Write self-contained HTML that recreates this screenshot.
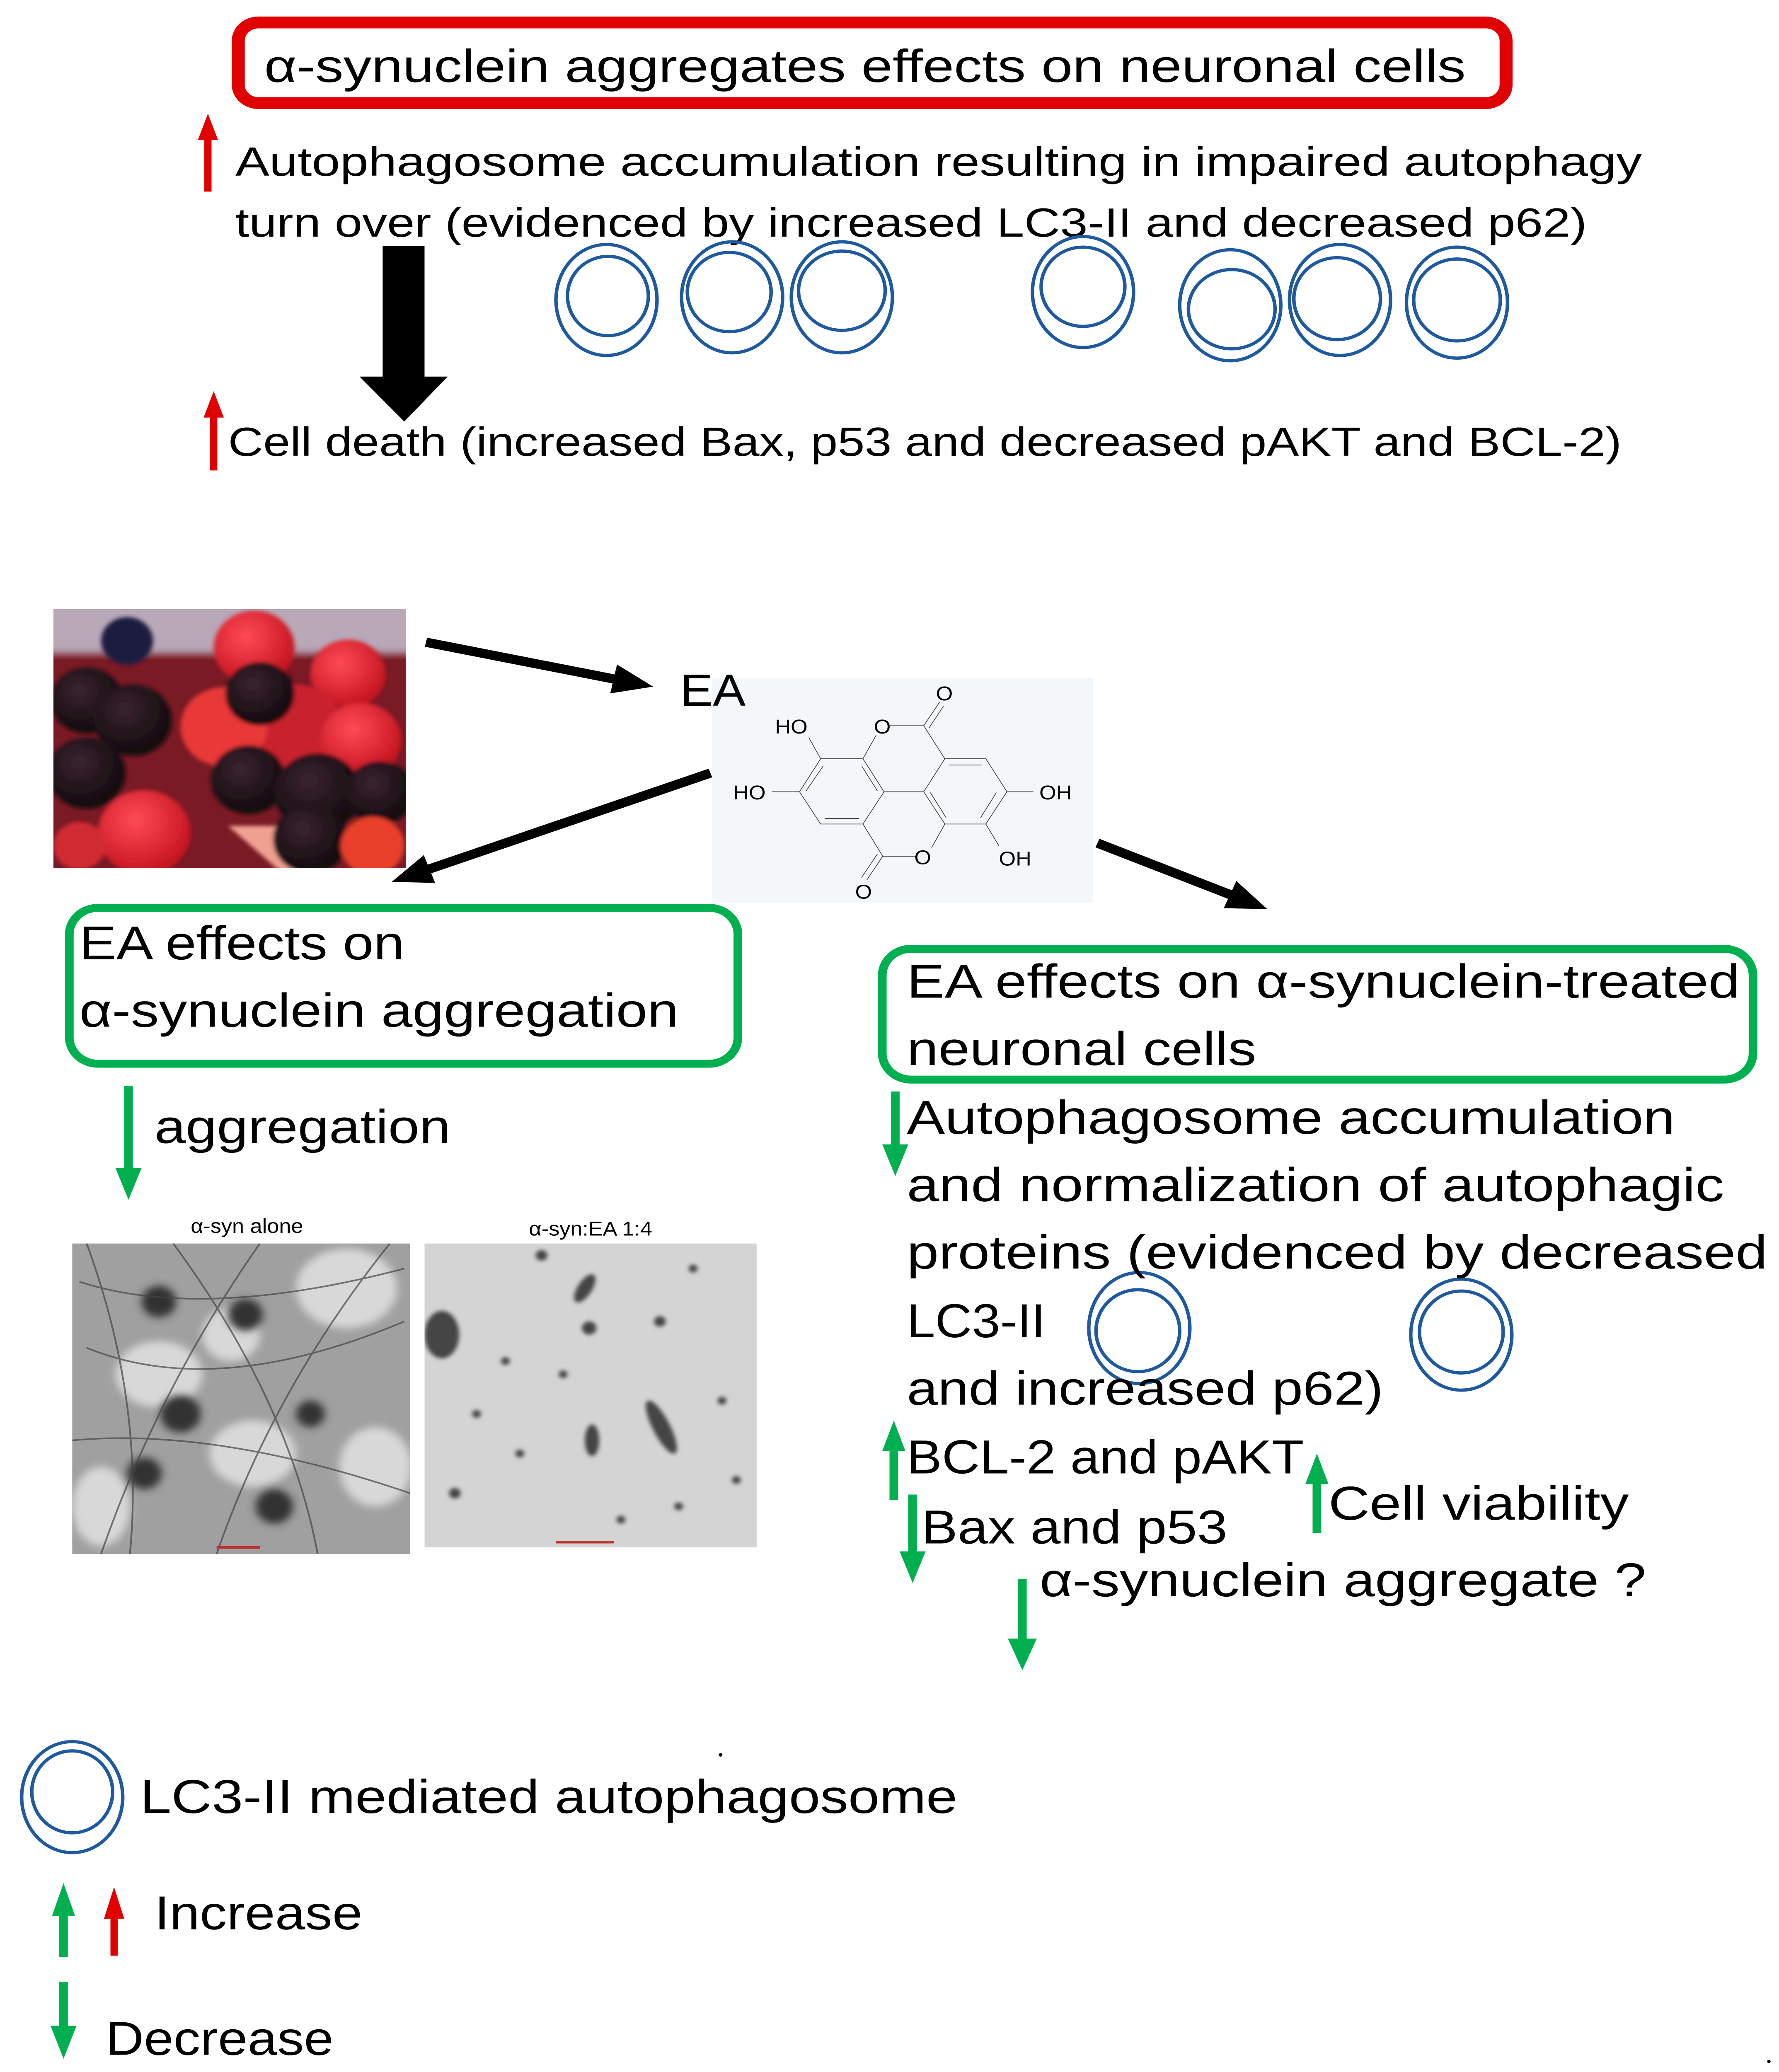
<!DOCTYPE html>
<html><head><meta charset="utf-8"><style>
html,body{margin:0;padding:0;background:#fff;width:100%;height:100%;overflow:hidden;}
svg{display:block;position:fixed;left:0;top:0;width:100vw;height:100vh;}
text{font-family:"Liberation Sans",sans-serif;fill:#000;}
</style></head><body>
<svg viewBox="0 0 1232 1568" preserveAspectRatio="none" xmlns="http://www.w3.org/2000/svg">
<defs>
<marker id="ah" markerWidth="4" markerHeight="4" refX="2.2" refY="2" orient="auto" markerUnits="strokeWidth">
<path d="M0,0.4 L4,2 L0,3.6 Z" fill="#000"/></marker>
<radialGradient id="rb" cx="0.4" cy="0.35" r="0.7"><stop offset="0" stop-color="#ff4a55"/><stop offset="1" stop-color="#c0101c"/></radialGradient>
<radialGradient id="bb" cx="0.4" cy="0.35" r="0.7"><stop offset="0" stop-color="#3a2430"/><stop offset="1" stop-color="#0e0709"/></radialGradient>
<filter id="bl"><feGaussianBlur stdDeviation="1.5"/></filter>
<filter id="bl2"><feGaussianBlur stdDeviation="3"/></filter>
</defs>

<rect x="165" y="17" width="878" height="61" rx="14" fill="none" stroke="#e00000" stroke-width="9"/>
<text x="183" y="62" font-size="35" textLength="832" lengthAdjust="spacingAndGlyphs">α-synuclein aggregates effects on neuronal cells</text>

<polygon points="144,86 151,106 146.5,106 146.5,145 141.5,145 141.5,106 137,106" fill="#e00000"/>
<polygon points="148,296 155,316 150.5,316 150.5,356 145.5,356 145.5,316 141,316" fill="#e00000"/>

<text x="163" y="133" font-size="31" textLength="974" lengthAdjust="spacingAndGlyphs">Autophagosome accumulation resulting in impaired autophagy</text>
<text x="163" y="179" font-size="31" textLength="936" lengthAdjust="spacingAndGlyphs">turn over (evidenced by increased LC3-II and decreased p62)</text>
<text x="158" y="345" font-size="31" textLength="965" lengthAdjust="spacingAndGlyphs">Cell death (increased Bax, p53 and decreased pAKT and BCL-2)</text>

<polygon points="265,186 294,186 294,285 310,285 280,319 249,285 265,285" fill="#000"/>

<g fill="none" stroke="#1f5aa0" stroke-width="2.4">
<ellipse cx="420" cy="227" rx="35" ry="42"/><ellipse cx="421" cy="224" rx="28" ry="30"/>
<ellipse cx="507" cy="225" rx="35" ry="42"/><ellipse cx="505" cy="221" rx="29" ry="30"/>
<ellipse cx="583" cy="225" rx="35" ry="42"/><ellipse cx="583" cy="220" rx="30" ry="30"/>
<ellipse cx="750" cy="221" rx="35" ry="42"/><ellipse cx="750" cy="217" rx="29" ry="30"/>
<ellipse cx="852" cy="231" rx="35" ry="42"/><ellipse cx="853" cy="234" rx="30" ry="30"/>
<ellipse cx="928" cy="227" rx="35" ry="42"/><ellipse cx="926" cy="226" rx="30" ry="31"/>
<ellipse cx="1009" cy="229" rx="35" ry="42"/><ellipse cx="1009" cy="227" rx="30" ry="31"/>
<ellipse cx="789" cy="1005" rx="35" ry="42"/><ellipse cx="788" cy="1007" rx="29" ry="31"/>
<ellipse cx="1012" cy="1010" rx="35" ry="42"/><ellipse cx="1012" cy="1008" rx="29" ry="31"/>
<ellipse cx="50" cy="1360" rx="35" ry="42"/><ellipse cx="50" cy="1356" rx="28" ry="31"/>
</g>

<g>
<clipPath id="bc"><rect x="37" y="461" width="244" height="196"/></clipPath>
<g clip-path="url(#bc)">
<rect x="37" y="461" width="244" height="196" fill="#7a1a24"/>
<g filter="url(#bl2)"><rect x="30" y="455" width="260" height="40" fill="#b8a8b8"/></g>
<g filter="url(#bl)">
<circle cx="176" cy="490" r="28" fill="url(#rb)"/>
<circle cx="88" cy="485" r="18" fill="#1a1a40"/>
<circle cx="241" cy="510" r="26" fill="url(#rb)"/>
<circle cx="205" cy="550" r="32" fill="#c8202e"/>
<circle cx="250" cy="560" r="28" fill="url(#rb)"/>
<circle cx="155" cy="550" r="30" fill="#e83838"/>
<circle cx="60" cy="530" r="25" fill="url(#bb)"/>
<circle cx="92" cy="545" r="27" fill="url(#bb)"/>
<circle cx="180" cy="525" r="24" fill="url(#bb)"/>
<circle cx="60" cy="585" r="27" fill="url(#bb)"/>
<circle cx="172" cy="590" r="26" fill="url(#bb)"/>
<circle cx="220" cy="600" r="30" fill="url(#bb)"/>
<circle cx="263" cy="600" r="24" fill="url(#bb)"/>
<circle cx="100" cy="630" r="32" fill="url(#rb)"/>
<path d="M158,625 L232,625 L200,665 Z" fill="#f0a090"/>
<circle cx="215" cy="635" r="26" fill="url(#bb)"/>
<circle cx="258" cy="640" r="22" fill="#e8402a"/>
<circle cx="55" cy="640" r="18" fill="#d02a30"/>
</g></g></g>

<g stroke="#000" stroke-width="7" marker-end="url(#ah)">
<line x1="295" y1="486" x2="440" y2="517"/>
<line x1="492" y1="585" x2="283" y2="663"/>
<line x1="760" y1="638" x2="866" y2="683"/>
</g>

<rect x="493" y="513" width="264" height="170" fill="#f4f7fa"/>
<text x="471" y="534" font-size="34">EA</text>
<g transform="translate(487.8,502.2) scale(0.183,0.119)" fill="none" stroke="#333" stroke-width="1.6">
<path vector-effect="non-scaling-stroke" d="M440,605 L600,605 L680,815 L600,1020 L440,1020 L360,815 Z"/>
<path vector-effect="non-scaling-stroke" d="M910,605 L1065,605 L1145,815 L1065,1020 L910,1020 L830,815 Z"/>
<path vector-effect="non-scaling-stroke" d="M680,815 L830,815 M600,605 L650,455 M700,395 L830,395 L910,605 M830,395 L890,245 M850,410 L905,270 M910,1020 L860,1170 M800,1225 L675,1225 L600,1020 M675,1225 L615,1375 M655,1210 L595,1360 M440,605 L395,470 M360,815 L255,815 M1145,815 L1245,815 M1065,1020 L1115,1160"/>
<path vector-effect="non-scaling-stroke" d="M450,650 L385,810 M595,650 L655,810 M455,985 L585,985 M925,645 L1050,645 M1105,820 L1045,980 M855,820 L915,980"/>
</g>
<g font-size="15" fill="#222">
<text x="548" y="555" text-anchor="middle">HO</text>
<text x="519" y="605" text-anchor="middle">HO</text>
<text x="731" y="605" text-anchor="middle">OH</text>
<text x="703" y="655" text-anchor="middle">OH</text>
<text x="611" y="555" text-anchor="middle">O</text>
<text x="639" y="654" text-anchor="middle">O</text>
<text x="654" y="530" text-anchor="middle">O</text>
<text x="598" y="680" text-anchor="middle">O</text>
</g>

<rect x="48" y="687" width="463" height="118" rx="20" fill="none" stroke="#00b050" stroke-width="6"/>
<text x="55" y="726" font-size="36" textLength="225" lengthAdjust="spacingAndGlyphs">EA effects on</text>
<text x="55" y="777" font-size="36" textLength="415" lengthAdjust="spacingAndGlyphs">α-synuclein aggregation</text>

<rect x="611" y="718" width="603" height="99" rx="20" fill="none" stroke="#00b050" stroke-width="6"/>
<text x="628" y="755" font-size="36" textLength="577" lengthAdjust="spacingAndGlyphs">EA effects on α-synuclein-treated</text>
<text x="628" y="806" font-size="36" textLength="242" lengthAdjust="spacingAndGlyphs">neuronal cells</text>

<g fill="#00b050">
<polygon points="86,822 92,822 92,884 98,884 89,908 80,884 86,884"/>
<polygon points="617,826 623,826 623,866 629,866 620,890 611,866 617,866"/>
<polygon points="619,1075 627,1098 622,1098 622,1135 616,1135 616,1098 611,1098"/>
<polygon points="629,1131 635,1131 635,1174 641,1174 632,1198 623,1174 629,1174"/>
<polygon points="912,1100 920,1123 915,1123 915,1160 909,1160 909,1123 904,1123"/>
<polygon points="705,1195 711,1195 711,1240 718,1240 708,1264 698,1240 705,1240"/>
<polygon points="44,1425 52,1450 47,1450 47,1481 41,1481 41,1450 36,1450"/>
<polygon points="41,1500 47,1500 47,1533 53,1533 44,1558 35,1533 41,1533"/>
</g>
<polygon points="79,1428 86,1452 81.5,1452 81.5,1480 76.5,1480 76.5,1452 72,1452" fill="#e00000"/>

<text x="107" y="865" font-size="36" textLength="205" lengthAdjust="spacingAndGlyphs">aggregation</text>

<g font-size="36">
<text x="628" y="858" textLength="532" lengthAdjust="spacingAndGlyphs">Autophagosome accumulation</text>
<text x="628" y="909" textLength="566" lengthAdjust="spacingAndGlyphs">and normalization of autophagic</text>
<text x="628" y="960" textLength="596" lengthAdjust="spacingAndGlyphs">proteins (evidenced  by decreased</text>
<text x="628" y="1012" textLength="96" lengthAdjust="spacingAndGlyphs">LC3-II</text>
<text x="628" y="1063" textLength="330" lengthAdjust="spacingAndGlyphs">and increased p62)</text>
<text x="628" y="1115" textLength="275" lengthAdjust="spacingAndGlyphs">BCL-2 and pAKT</text>
<text x="638" y="1168" textLength="212" lengthAdjust="spacingAndGlyphs">Bax and p53</text>
<text x="920" y="1150" textLength="208" lengthAdjust="spacingAndGlyphs">Cell viability</text>
<text x="720" y="1208" textLength="420" lengthAdjust="spacingAndGlyphs">α-synuclein  aggregate ?</text>
<text x="97" y="1372" textLength="566" lengthAdjust="spacingAndGlyphs">LC3-II mediated autophagosome</text>
<text x="107" y="1460" textLength="144" lengthAdjust="spacingAndGlyphs">Increase</text>
<text x="73" y="1555" textLength="158" lengthAdjust="spacingAndGlyphs">Decrease</text>
</g>
<circle cx="499" cy="1328" r="1.3" fill="#000"/>
<circle cx="1225" cy="1560" r="1.2" fill="#000"/>

<text x="171" y="933" font-size="15" fill="#333" text-anchor="middle">α-syn alone</text>
<text x="409" y="935" font-size="15" fill="#333" text-anchor="middle">α-syn:EA 1:4</text>
<clipPath id="t1"><rect x="50" y="941" width="234" height="235"/></clipPath>
<g clip-path="url(#t1)">
<rect x="50" y="941" width="234" height="235" fill="#a0a0a0"/>
<g filter="url(#bl2)" fill="#d8d8d8">
<ellipse cx="240" cy="975" rx="35" ry="30"/><ellipse cx="110" cy="1040" rx="30" ry="25"/>
<ellipse cx="175" cy="1100" rx="30" ry="25"/><ellipse cx="160" cy="1010" rx="20" ry="20"/>
<ellipse cx="70" cy="1140" rx="20" ry="30"/><ellipse cx="260" cy="1110" rx="25" ry="30"/>
</g>
<g filter="url(#bl2)" fill="#333">
<circle cx="110" cy="985" r="12"/><circle cx="170" cy="995" r="12"/><circle cx="125" cy="1070" r="14"/>
<circle cx="100" cy="1115" r="12"/><circle cx="215" cy="1070" r="10"/><circle cx="190" cy="1140" r="13"/>
</g>
<g stroke="#444" stroke-width="1.2" fill="none" opacity="0.7">
<path d="M55,970 Q140,1000 280,960 M60,1020 Q150,1060 280,1000 M70,1176 Q110,1050 180,941 M150,1176 Q190,1050 270,941 M50,1090 Q150,1080 284,1130 M220,1176 Q200,1060 120,941 M60,941 Q100,1060 90,1176"/>
</g>
<rect x="150" y="1170" width="30" height="2" fill="#c03030"/>
</g>
<clipPath id="t2"><rect x="294" y="941" width="230" height="230"/></clipPath>
<g clip-path="url(#t2)">
<rect x="294" y="941" width="230" height="230" fill="#d4d4d4"/>
<g filter="url(#bl)" fill="#444">
<ellipse cx="306" cy="1010" rx="12" ry="18"/><ellipse cx="405" cy="975" rx="5" ry="12" transform="rotate(30 405 975)"/>
<circle cx="408" cy="1005" r="5"/><circle cx="375" cy="950" r="4"/><ellipse cx="458" cy="1080" rx="6" ry="22" transform="rotate(-25 458 1080)"/>
<ellipse cx="410" cy="1090" rx="5" ry="12"/><circle cx="457" cy="1000" r="4"/><circle cx="350" cy="1030" r="3"/>
<circle cx="330" cy="1070" r="3"/><circle cx="360" cy="1100" r="3"/><circle cx="390" cy="1040" r="3"/>
<circle cx="315" cy="1130" r="4"/><circle cx="470" cy="1140" r="3"/><circle cx="500" cy="1060" r="3"/>
<circle cx="430" cy="1150" r="3"/><circle cx="510" cy="1120" r="3"/><circle cx="480" cy="960" r="3"/>
</g>
<rect x="385" y="1166" width="40" height="2" fill="#c03030"/>
</g>
</svg>
</body></html>
